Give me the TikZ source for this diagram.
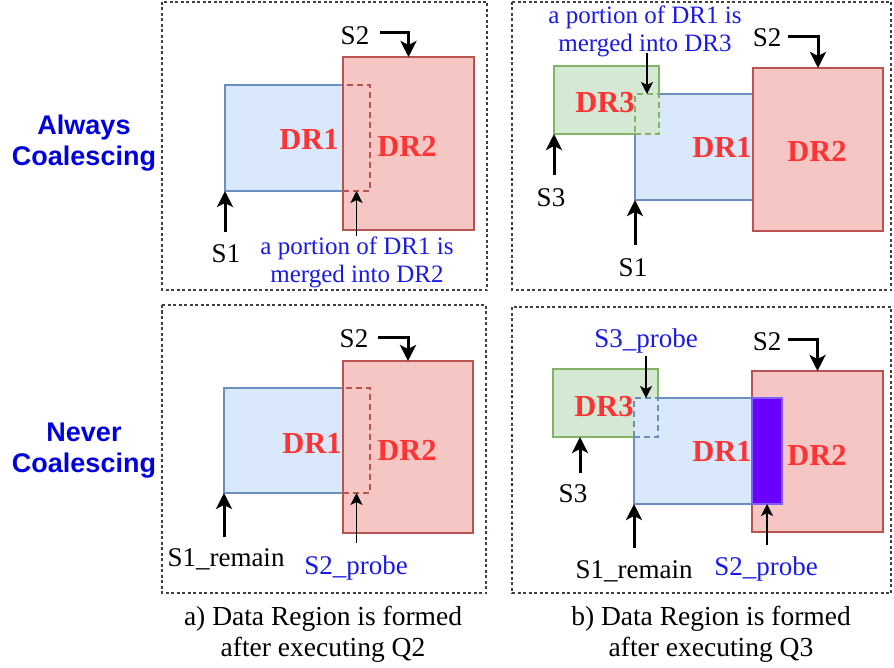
\documentclass[tikz,border=0pt]{standalone}
\usepackage{fontspec}
\setmainfont{Liberation Serif}
\newfontfamily\sidefont{Liberation Sans}
\usetikzlibrary{arrows.meta}
\definecolor{bluefill}{HTML}{DAE8FC}
\definecolor{bluestroke}{HTML}{6C8EBF}
\definecolor{redfill}{HTML}{F5C6C4}
\definecolor{redstroke}{HTML}{B85450}
\definecolor{greenfill}{HTML}{D5E8D4}
\definecolor{greenstroke}{HTML}{82B366}
\definecolor{purplefill}{HTML}{6A00FF}
\definecolor{purplestroke}{HTML}{7F5FFF}
\definecolor{drred}{HTML}{FF3333}
\definecolor{noteblue}{HTML}{1A1AE6}
\definecolor{sideblue}{HTML}{0000DD}
\definecolor{framegray}{HTML}{404040}
\newcommand\rectnode[6]{%
  \node[#2, minimum width={(#5)-(#3)}, minimum height={(#6)-(#4)}] (#1) at ({((#3)+(#5))/2},{((#4)+(#6))/2}) {};}
\tikzset{
  frame/.style={draw=framegray, line width=1.2pt, dash pattern=on 3pt off 2.5pt},
  boxbase/.style={inner sep=0pt, outer sep=0pt, line width=2.2pt},
  bluebox/.style={boxbase, draw=bluestroke, fill=bluefill},
  bluefillonly/.style={boxbase, fill=bluefill},
  redbox/.style={boxbase, draw=redstroke, fill=redfill},
  greenbox/.style={boxbase, draw=greenstroke, fill=greenfill},
  greenfillonly/.style={boxbase, fill=greenfill},
  purplebox/.style={boxbase, draw=purplestroke, fill=purplefill},
  reddash/.style={boxbase, draw=redstroke, dash pattern=on 6pt off 4pt},
  greendash/.style={boxbase, draw=greenstroke, dash pattern=on 6pt off 4pt},
  bluedash/.style={boxbase, draw=bluestroke, dash pattern=on 6pt off 4pt},
  blueline/.style={draw=bluestroke, line width=2.2pt},
  greenline/.style={draw=greenstroke, line width=2.2pt},
  drlabel/.style={text=drred, font=\bfseries\fontsize{30.5}{33}\selectfont, inner sep=0pt, anchor=base},
  slabel/.style={font=\fontsize{27}{30}\selectfont, inner sep=1pt, anchor=base},
  probelabel/.style={slabel, text=noteblue},
  note/.style={text=noteblue, font=\fontsize{25}{28}\selectfont, align=center, inner sep=1pt},
  sidelabel/.style={text=sideblue, font=\sidefont\bfseries\fontsize{27}{31}\selectfont, align=center, inner sep=0pt},
  caption/.style={font=\fontsize{27.5}{31}\selectfont, align=center, inner sep=0pt},
  thickarrow/.style={-{Stealth[length=16pt,width=16pt,inset=4pt]}, line width=3pt},
  thinarrow/.style={-{Stealth[length=12pt,width=12pt,inset=3pt]}, line width=1.7pt},
}
\begin{document}
\begin{tikzpicture}[x=1pt,y=-1pt]
\useasboundingbox (0,0) rectangle (894,668);
\fill[white] (0,0) rectangle (894,668);
% frames
\draw[frame] (162,2) rectangle (487,290);
\draw[frame] (512,2) rectangle (891,290);
\draw[frame] (162,305) rectangle (486,593);
\draw[frame] (512,307) rectangle (891,593);
% side labels
\node[sidelabel] (alw) at (84,143) {Always\\Coalescing};
\node[sidelabel] (nev) at (84,451) {Never\\Coalescing};
% captions
\node[caption] (capa) at (323,634) {a) Data Region is formed\\after executing Q2};
\node[caption] (capb) at (711,634) {b) Data Region is formed\\after executing Q3};

% ---------- top-left ----------
\rectnode{dr1a}{bluebox}{225}{85}{370}{191}
\rectnode{dr2a}{redbox}{343}{57}{474}{230}
\rectnode{dasha}{reddash}{343}{85}{370}{191}
\node[drlabel] (t1a) at (309,150) {DR1};
\node[drlabel] (t2a) at (407,157) {DR2};
\node[slabel] (s2a) at (355,45) {S2};
\node[slabel] (s1a) at (226,263) {S1};
\node[note] (nota) at (357,262) {a portion of DR1 is\\merged into DR2};
\coordinate (s2aS) at (380,33);
\coordinate (s1aS) at (225,232);
\coordinate (notaS) at (356.5,236);
\draw[thickarrow] (s2aS) -| (dr2a.north);
\draw[thickarrow] (s1aS) -- (dr1a.south west);
\draw[thinarrow] (notaS) -- (dasha.south);

% ---------- top-right ----------
\rectnode{dr1b}{bluebox}{635}{94}{753}{200}
\rectnode{dr3b}{greenfillonly}{554}{66}{659}{134}
\rectnode{dashb}{greendash}{635}{94}{659}{134}
\draw[greenline] (dashb.north east) -- (dr3b.north east) -- (dr3b.north west) -- (dr3b.south west) -- (dashb.south west);
\rectnode{dr2b}{redbox}{753}{68}{883}{231}
\node[drlabel] (t3b) at (605,113) {DR3};
\node[drlabel] (t1b) at (722,158) {DR1};
\node[drlabel] (t2b) at (817,162) {DR2};
\node[slabel] (s2b) at (767,47) {S2};
\node[slabel] (s3b) at (551,207) {S3};
\node[slabel] (s1b) at (633,277) {S1};
\node[note] (notb) at (645,31) {a portion of DR1 is\\merged into DR3};
\coordinate (s2bS) at (788,37);
\coordinate (s3bS) at (554,175);
\coordinate (s1bS) at (635,245);
\coordinate (notbS) at (647,53);
\draw[thickarrow] (s2bS) -| (dr2b.north);
\draw[thickarrow] (s3bS) -- (dr3b.south west);
\draw[thickarrow] (s1bS) -- (dr1b.south west);
\draw[thinarrow] (notbS) -- (dashb.north);

% ---------- bottom-left ----------
\rectnode{dr1c}{bluebox}{224}{388}{370}{493}
\rectnode{dr2c}{redbox}{343}{361}{473}{533}
\rectnode{dashc}{reddash}{343}{388}{370}{493}
\node[drlabel] (t1c) at (312,453) {DR1};
\node[drlabel] (t2c) at (407,460) {DR2};
\node[slabel] (s2c) at (354,347) {S2};
\node[slabel] (s1c) at (226,566) {S1\_remain};
\node[probelabel] (pc) at (356,574) {S2\_probe};
\coordinate (s2cS) at (378,337);
\coordinate (s1cS) at (224,537);
\coordinate (pcS) at (356.5,543);
\draw[thickarrow] (s2cS) -| (dr2c.north);
\draw[thickarrow] (s1cS) -- (dr1c.south west);
\draw[thinarrow] (pcS) -- (dashc.south);

% ---------- bottom-right ----------
\rectnode{dr3d}{greenbox}{553}{369}{658}{437}
\rectnode{dr1d}{bluefillonly}{634}{398}{782}{504}
\rectnode{dashd}{bluedash}{634}{398}{658}{437}
\draw[blueline] (dashd.north east) -- (dr1d.north east) -- (dr1d.south east) -- (dr1d.south west) -- (dashd.south west);
\rectnode{dr2d}{redbox}{752}{371}{883}{532}
\rectnode{prd}{purplebox}{752}{398}{782}{504}
\node[drlabel] (t3d) at (604,416) {DR3};
\node[drlabel] (t1d) at (722,461) {DR1};
\node[drlabel] (t2d) at (817,465) {DR2};
\node[probelabel] (p3d) at (646,347) {S3\_probe};
\node[slabel] (s2d) at (767,350) {S2};
\node[slabel] (s3d) at (573,502) {S3};
\node[slabel] (s1d) at (634,578) {S1\_remain};
\node[probelabel] (p2d) at (766,575) {S2\_probe};
\coordinate (s2dS) at (788,339);
\coordinate (p3dS) at (646,356);
\coordinate (s3dS) at (580,473);
\coordinate (s1dS) at (634,548);
\coordinate (p2dS) at (767,545);
\draw[thickarrow] (s2dS) -| (dr2d.north);
\draw[thinarrow] (p3dS) -- (dashd.north);
\draw[thickarrow] (s3dS) -- ([xshift=27pt]dr3d.south west);
\draw[thickarrow] (s1dS) -- (dr1d.south west);
\draw[thinarrow] (p2dS) -- (prd.south);
\end{tikzpicture}
\end{document}
